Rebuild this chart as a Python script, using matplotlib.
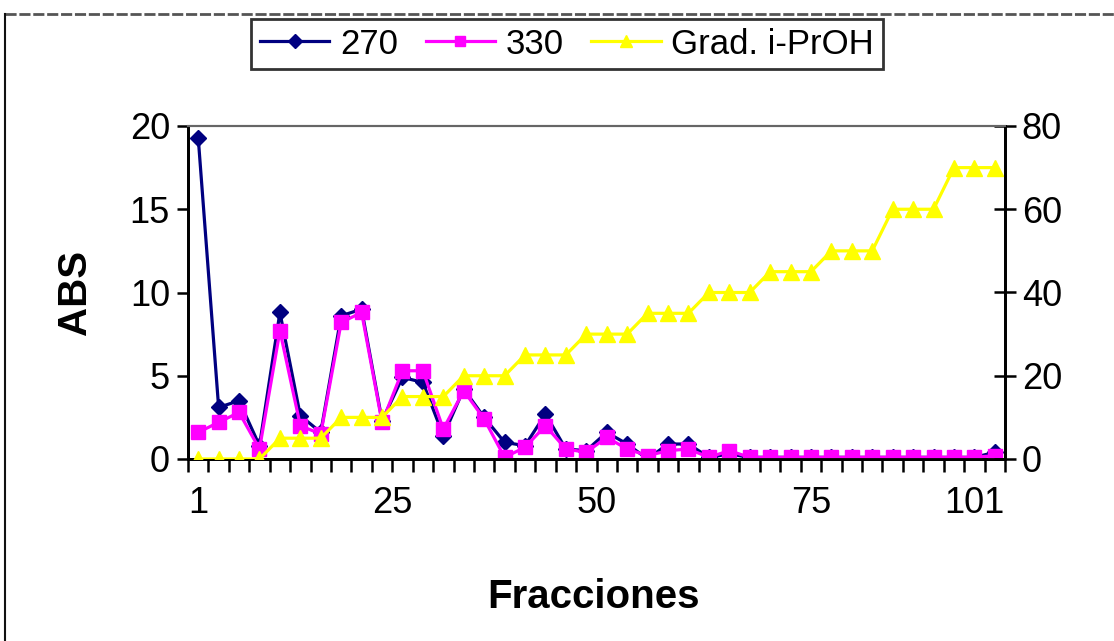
import matplotlib
matplotlib.use("Agg")
import matplotlib.pyplot as plt
from matplotlib.lines import Line2D
from matplotlib import font_manager

# --- data -------------------------------------------------------------
abs_270 = [19.3, 3.1, 3.5, 0.8, 8.8, 2.6, 1.6, 8.6, 9.0, 2.3,
           4.9, 4.6, 1.4, 4.2, 2.5, 1.0, 0.8, 2.7, 0.6, 0.5,
           1.6, 0.9, 0.0, 0.9, 0.9, 0.1, 0.3, 0.1, 0.1, 0.1,
           0.1, 0.1, 0.1, 0.1, 0.1, 0.1, 0.1, 0.1, 0.1, 0.4]
abs_330 = [1.6, 2.2, 2.8, 0.6, 7.7, 2.0, 1.5, 8.2, 8.8, 2.2,
           5.3, 5.3, 1.8, 4.1, 2.4, 0.1, 0.7, 2.0, 0.6, 0.4,
           1.3, 0.6, 0.2, 0.5, 0.6, 0.1, 0.5, 0.1, 0.1, 0.1,
           0.1, 0.1, 0.1, 0.1, 0.1, 0.1, 0.1, 0.1, 0.1, 0.2]
grad_iproh = [0, 0, 0, 0, 5, 5, 5, 10, 10, 10,
              15, 15, 15, 20, 20, 20, 25, 25, 25, 30,
              30, 30, 35, 35, 35, 40, 40, 40, 45, 45,
              45, 50, 50, 50, 60, 60, 60, 70, 70, 70]
xtick_labels = ["1", "25", "50", "75", "101"]
xtick_cats = [0, 9.5, 19.5, 30, 38]
left_ticks = [0, 5, 10, 15, 20]
right_ticks = [0, 20, 40, 60, 80]

# --- fonts ------------------------------------------------------------
available = {f.name for f in font_manager.fontManager.ttflist}
family = "Liberation Sans Narrow" if "Liberation Sans Narrow" in available else "Liberation Sans"
plt.rcParams["font.family"] = [family, "DejaVu Sans"]

W, H = 1114, 641
fig = plt.figure(figsize=(W / 100, H / 100), dpi=100)
fig.patch.set_facecolor("white")

# chart-area frame (runs off the right and bottom edges)
fig.add_artist(Line2D([5 / W, 1.0], [1 - 14 / H, 1 - 14 / H], transform=fig.transFigure,
                      color="#555555", lw=2, ls=(0, (4, 1))))
fig.add_artist(Line2D([5 / W, 5 / W], [0, 1 - 14 / H], transform=fig.transFigure,
                      color="#111111", lw=1.5))

left, right, top, bottom = 188 / W, 1005 / W, 1 - 126 / H, 1 - 459 / H
ax = fig.add_axes([left, bottom, right - left, top - bottom])
ax2 = ax.twinx()

n = len(abs_270)
x = list(range(n))

ax.plot(x, abs_270, color="#000080", lw=2.3, marker="D", ms=8.5,
        markeredgecolor="#000080", zorder=3)
ax.plot(x, abs_330, color="#FF00FF", lw=2.3, marker="s", ms=10,
        markeredgecolor="#FF00FF", zorder=4)
ax2.plot(x, grad_iproh, color="#FFFF00", lw=2.3, marker="^", ms=12,
         markeredgecolor="#FFFF00", zorder=3)

ax.set_xlim(-0.5, n - 0.5)
ax.set_ylim(0, 20)
ax2.set_ylim(0, 80)

# category ticks sit between the points; labels are placed separately
ax.set_xticks([i - 0.5 for i in range(n + 1)], minor=False)
ax.set_xticklabels([])
ax.tick_params(axis="x", which="major", direction="out", length=9, width=1.8, color="black")
for cat, lab in zip(xtick_cats, xtick_labels):
    ax.text(cat, -0.08, lab, transform=ax.get_xaxis_transform(),
            ha="center", va="top", fontsize=26)

ax.set_yticks(left_ticks)
ax.tick_params(axis="y", direction="out", length=8, width=1.8, labelsize=26, pad=5)
ax2.set_yticks(right_ticks)
ax2.tick_params(axis="y", direction="inout", length=16, width=1.8, labelsize=26, pad=4)

for a in (ax, ax2):
    a.spines["top"].set_color("#666666")
    a.spines["top"].set_linestyle((0, (4, 1)))
    a.spines["top"].set_linewidth(1.5)
    for s in ("left", "right", "bottom"):
        a.spines[s].set_linewidth(2)
        a.spines[s].set_color("black")

fig.text(75 / W, 1 - 292 / H, "ABS", rotation=90, ha="center", va="center",
         fontsize=29, fontweight="bold")
fig.text(593 / W, 1 - 597 / H, "Fracciones", ha="center", va="center",
         fontsize=29, fontweight="bold")

handles = [
    Line2D([], [], color="#000080", lw=2.3, marker="D", ms=7),
    Line2D([], [], color="#FF00FF", lw=2.3, marker="s", ms=7),
    Line2D([], [], color="#FFFF00", lw=2.3, marker="^", ms=8),
]
leg = fig.legend(handles, ["270", "330", "Grad. i-PrOH"], ncol=3,
                 loc="center", bbox_to_anchor=(567 / W, 1 - 44 / H),
                 fontsize=25, frameon=True, fancybox=False, edgecolor="black",
                 handlelength=2.0, handletextpad=0.3, columnspacing=0.8,
                 borderpad=0.25)
leg.get_frame().set_linewidth(2)

fig.savefig("out.png", dpi=100, facecolor="white")
